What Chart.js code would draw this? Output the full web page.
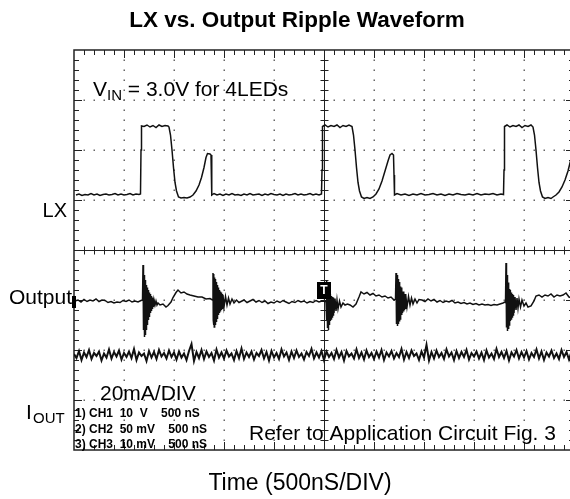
<!DOCTYPE html>
<html>
<head>
<meta charset="utf-8">
<script src="https://cdn.jsdelivr.net/npm/chart.js@4"></script>
<style>
  html, body { margin: 0; padding: 0; background: #fff; overflow: hidden; }
  #wrap { width: 570px; height: 499px; overflow: hidden; }
</style>
</head>
<body>
<div id="wrap"><canvas id="scope" width="580" height="499"></canvas></div>
<script>
// --- data: time in divisions (0..10), level in divisions (0..8 from bottom) ---
const chartTitle = 'LX vs. Output Ripple Waveform';
const xAxisTitle = 'Time (500nS/DIV)';
const channelInfo = ['1) CH1  10  V    500 nS', '2) CH2  50 mV    500 nS', '3) CH3  10 mV    500 nS'];

// CH1 - LX switching node
const lxTrace = [
  [0.04,5.1],[0.1,5.12],[0.16,5.09],[0.22,5.11],[0.28,5.1],[0.34,5.13],[0.4,5.1],[0.46,5.12],[0.52,5.09],[0.58,5.11],
  [0.64,5.12],[0.7,5.1],[0.76,5.11],[0.82,5.13],[0.88,5.1],[0.94,5.12],[1.0,5.1],[1.06,5.11],[1.12,5.13],[1.18,5.1],
  [1.24,5.12],[1.3,5.11],[1.33,5.12],
  [1.34,6.0],[1.35,6.48],[1.4,6.47],[1.46,6.5],[1.52,6.46],[1.58,6.49],[1.64,6.45],[1.7,6.5],[1.76,6.47],[1.82,6.49],[1.88,6.48],[1.9,6.46],
  [1.93,6.3],[1.96,6.0],[1.99,5.65],[2.02,5.35],[2.05,5.18],[2.09,5.06],[2.14,5.04],[2.2,5.05],[2.26,5.04],[2.32,5.06],
  [2.38,5.1],[2.44,5.18],[2.5,5.3],[2.55,5.45],[2.6,5.65],[2.64,5.85],[2.67,5.93],[2.72,5.92],[2.74,5.9],[2.75,5.5],[2.76,5.1],
  [2.8,5.13],[2.86,5.1],[2.92,5.12],[2.98,5.09],[3.04,5.12],[3.1,5.1],[3.16,5.13],[3.22,5.1],[3.28,5.11],[3.34,5.09],
  [3.4,5.12],[3.46,5.1],[3.52,5.13],[3.58,5.1],[3.64,5.11],[3.7,5.12],[3.76,5.09],[3.82,5.12],[3.88,5.1],[3.94,5.13],
  [4.0,5.11],[4.06,5.1],[4.12,5.12],[4.18,5.09],[4.24,5.12],[4.3,5.1],[4.36,5.11],[4.42,5.13],[4.48,5.1],[4.54,5.12],
  [4.6,5.1],[4.66,5.11],[4.72,5.13],[4.78,5.1],[4.84,5.12],[4.9,5.1],[4.95,5.12],
  [4.96,5.6],[4.97,6.47],[5.02,6.5],[5.08,6.46],[5.14,6.49],[5.2,6.47],[5.26,6.5],[5.32,6.45],[5.38,6.49],[5.44,6.47],[5.5,6.5],[5.56,6.47],
  [5.59,6.3],[5.62,6.0],[5.65,5.65],[5.68,5.35],[5.71,5.18],[5.75,5.06],[5.8,5.03],[5.86,5.05],[5.92,5.03],[5.98,5.06],
  [6.04,5.12],[6.1,5.22],[6.16,5.38],[6.22,5.58],[6.28,5.78],[6.32,5.9],[6.36,5.93],[6.39,5.9],[6.4,5.5],[6.41,5.1],
  [6.46,5.13],[6.54,5.1],[6.62,5.12],[6.7,5.09],[6.78,5.12],[6.86,5.1],[6.94,5.13],[7.02,5.1],[7.1,5.11],[7.18,5.13],
  [7.26,5.1],[7.34,5.12],[7.42,5.09],[7.5,5.12],[7.58,5.1],[7.66,5.13],[7.74,5.11],[7.82,5.1],[7.9,5.12],[7.98,5.1],
  [8.06,5.13],[8.14,5.1],[8.22,5.12],[8.3,5.11],[8.38,5.13],[8.46,5.1],[8.54,5.12],[8.59,5.11],
  [8.6,5.6],[8.61,6.47],[8.66,6.5],[8.72,6.46],[8.78,6.49],[8.84,6.47],[8.9,6.5],[8.96,6.45],[9.02,6.49],[9.08,6.47],[9.14,6.5],[9.18,6.46],
  [9.21,6.3],[9.24,6.0],[9.27,5.65],[9.3,5.35],[9.33,5.18],[9.37,5.06],[9.42,5.03],[9.48,5.05],[9.54,5.03],[9.58,5.06],
  [9.64,5.1],[9.7,5.16],[9.76,5.26],[9.82,5.4],[9.88,5.58],[9.93,5.78],[9.97,5.88],[10,5.92]
];

// CH2 - output ripple
const outTrace = [
  [0.02,2.98],[0.08,3.0],[0.14,2.96],[0.2,3.01],[0.26,2.97],[0.32,3.0],[0.38,2.98],[0.44,3.02],[0.5,2.97],[0.56,3.0],
  [0.62,2.99],[0.68,2.95],[0.74,2.97],[0.8,2.94],[0.86,2.96],[0.92,2.95],[0.98,2.99],[1.04,2.97],[1.1,3.0],[1.16,2.96],
  [1.22,2.98],[1.28,2.96],[1.34,2.99],
  [1.37,3.0],[1.38,3.7],[1.385,2.6],[1.39,3.6],[1.395,2.4],[1.40,3.5],[1.405,2.3],[1.41,3.45],[1.415,2.26],[1.42,3.4],
  [1.425,2.3],[1.43,3.35],[1.435,2.35],[1.44,3.3],[1.445,2.4],[1.45,3.28],[1.455,2.45],[1.46,3.25],[1.465,2.5],[1.47,3.22],
  [1.475,2.55],[1.48,3.2],[1.485,2.6],[1.49,3.17],[1.495,2.63],[1.50,3.15],[1.505,2.66],[1.51,3.13],[1.515,2.7],[1.52,3.12],
  [1.53,2.74],[1.54,3.08],[1.55,2.78],[1.56,3.05],[1.57,2.82],[1.58,3.03],[1.59,2.86],[1.60,3.0],[1.62,2.9],[1.64,2.98],
  [1.66,2.9],[1.68,2.94],
  [1.72,2.9],[1.78,2.92],[1.84,2.86],[1.88,2.89],[1.94,2.96],[1.98,3.05],[2.04,3.15],[2.08,3.2],[2.14,3.14],[2.2,3.16],
  [2.26,3.12],[2.32,3.1],[2.4,3.08],[2.48,3.06],[2.56,3.06],[2.64,3.02],[2.72,3.03],[2.77,3.0],
  [2.78,3.54],[2.785,2.6],[2.79,3.52],[2.795,2.5],[2.80,3.5],[2.805,2.46],[2.81,3.45],[2.815,2.48],[2.82,3.42],[2.825,2.5],
  [2.83,3.38],[2.835,2.54],[2.84,3.36],[2.845,2.56],[2.85,3.33],[2.855,2.6],[2.86,3.3],[2.865,2.62],[2.87,3.27],[2.875,2.66],
  [2.88,3.25],[2.89,2.7],[2.90,3.2],[2.91,2.74],[2.92,3.17],[2.93,2.77],[2.94,3.15],[2.95,2.8],[2.96,3.12],[2.97,2.82],
  [2.98,3.1],[3.0,2.86],[3.03,3.07],[3.06,2.9],[3.09,3.04],[3.12,2.92],[3.16,3.02],[3.2,2.94],[3.25,3.0],[3.3,2.95],
  [3.34,2.97],[3.4,3.0],[3.46,2.95],[3.52,2.98],[3.58,3.01],[3.64,2.96],[3.7,2.99],[3.76,2.95],[3.82,2.98],[3.88,2.93],
  [3.94,2.96],[4.0,2.94],[4.06,2.98],[4.12,2.95],[4.18,2.99],[4.24,2.96],[4.3,2.93],[4.36,2.97],[4.42,2.95],[4.48,2.99],
  [4.54,2.96],[4.6,2.98],[4.66,2.94],[4.72,2.97],[4.78,2.95],[4.84,2.99],[4.9,2.96],[4.96,2.98],[5.02,2.97],
  [5.04,2.98],[5.05,3.4],[5.055,2.6],[5.06,3.35],[5.065,2.5],[5.07,3.3],[5.075,2.44],[5.08,3.25],[5.085,2.4],[5.09,3.2],
  [5.095,2.45],[5.10,3.18],[5.105,2.5],[5.11,3.15],[5.115,2.55],[5.12,3.12],[5.125,2.58],[5.13,3.1],[5.14,2.62],[5.15,3.08],
  [5.16,2.66],[5.17,3.06],[5.18,2.7],[5.19,3.05],[5.2,2.74],[5.22,3.03],[5.24,2.78],[5.26,3.0],[5.28,2.82],[5.31,2.98],
  [5.34,2.86],[5.38,2.94],[5.42,2.9],[5.47,2.92],
  [5.52,2.9],[5.58,2.86],[5.64,2.92],[5.7,3.06],[5.74,3.16],[5.8,3.12],[5.86,3.15],[5.92,3.1],[5.98,3.13],[6.04,3.08],
  [6.1,3.1],[6.16,3.06],[6.22,3.08],[6.28,3.04],[6.34,3.06],[6.4,3.0],[6.43,3.02],
  [6.44,3.54],[6.445,2.6],[6.45,3.52],[6.455,2.52],[6.46,3.5],[6.465,2.48],[6.47,3.45],[6.475,2.5],[6.48,3.42],[6.485,2.52],
  [6.49,3.38],[6.495,2.55],[6.50,3.36],[6.505,2.57],[6.51,3.33],[6.515,2.6],[6.52,3.3],[6.525,2.62],[6.53,3.27],[6.535,2.66],
  [6.54,3.25],[6.55,2.7],[6.56,3.2],[6.57,2.74],[6.58,3.17],[6.59,2.77],[6.6,3.15],[6.61,2.8],[6.62,3.12],[6.63,2.82],
  [6.64,3.1],[6.66,2.86],[6.69,3.07],[6.72,2.9],[6.75,3.04],[6.78,2.92],[6.82,3.02],[6.86,2.94],[6.9,3.01],
  [6.96,3.0],[7.02,2.97],[7.08,3.02],[7.14,2.98],[7.2,3.01],[7.26,2.96],[7.32,2.99],[7.38,2.95],[7.44,2.98],[7.5,2.96],
  [7.56,2.99],[7.62,2.94],[7.68,2.96],[7.74,2.93],[7.8,2.95],[7.86,2.92],[7.92,2.94],[7.98,2.91],[8.04,2.93],[8.1,2.9],
  [8.16,2.92],[8.22,2.9],[8.28,2.91],[8.34,2.89],[8.4,2.91],[8.46,2.9],[8.52,2.92],[8.58,2.94],[8.62,2.96],
  [8.63,2.95],[8.64,3.74],[8.645,2.6],[8.65,3.6],[8.655,2.45],[8.66,3.5],[8.665,2.4],[8.67,3.42],[8.675,2.38],[8.68,3.35],
  [8.685,2.42],[8.69,3.3],[8.695,2.46],[8.70,3.25],[8.705,2.5],[8.71,3.22],[8.715,2.54],[8.72,3.2],[8.725,2.58],[8.73,3.17],
  [8.74,2.62],[8.75,3.15],[8.76,2.66],[8.77,3.12],[8.78,2.7],[8.79,3.1],[8.8,2.74],[8.82,3.06],[8.84,2.8],[8.86,3.04],
  [8.88,2.84],[8.9,3.02],[8.93,2.86],[8.96,3.0],[9.0,2.88],[9.04,2.94],[9.08,2.86],[9.14,2.88],[9.2,2.98],[9.24,3.08],
  [9.3,3.1],[9.36,3.06],[9.42,3.1],[9.48,3.08],[9.54,3.12],[9.6,3.06],[9.66,3.1],[9.72,3.08],[9.78,3.1],[9.84,3.14],
  [9.9,3.06],[9.96,3.04],[10,3.05]
];

// CH3 - LED current, sampled every 0.05 div
const ioutStep = 0.05;
const ioutValues = [
  1.92,1.84,1.98,1.80,1.95,1.86,2.00,1.82,1.94,1.88,1.97,1.79,1.93,1.85,2.01,1.83,1.96,1.87,1.99,1.81,
  1.94,1.86,1.97,1.84,2.02,1.80,1.95,1.88,1.93,1.78,1.98,1.85,1.96,1.82,2.00,1.87,1.94,1.83,1.99,1.86,
  1.95,1.81,1.97,1.85,1.93,1.80,1.98,2.12,1.78,1.96,1.84,2.00,1.82,1.97,1.86,1.94,1.79,2.01,1.85,1.95,
  1.83,1.99,1.87,1.93,1.80,1.98,1.84,2.03,1.82,1.95,1.86,1.97,1.81,1.94,1.88,2.00,1.83,1.96,1.79,1.98,
  1.85,1.94,1.82,2.01,1.87,1.95,1.80,1.97,1.84,1.99,1.86,1.93,1.81,1.96,1.88,2.02,1.83,1.95,1.85,1.98,
  1.80,1.97,1.86,1.94,1.82,2.00,1.85,1.96,1.79,1.98,1.87,1.93,1.83,2.01,1.84,1.95,1.81,1.99,1.86,1.94,
  1.82,1.97,1.85,2.00,1.80,1.95,1.87,1.98,1.83,1.94,1.86,2.02,1.81,1.96,1.84,1.99,1.88,1.93,1.80,1.97,
  1.85,2.10,1.79,1.96,1.83,1.99,1.86,1.94,1.82,2.01,1.87,1.95,1.80,1.98,1.84,1.96,1.86,2.00,1.81,1.94,
  1.87,1.97,1.83,1.95,1.80,1.99,1.85,1.93,1.82,2.02,1.86,1.96,1.84,1.98,1.79,1.95,1.87,2.00,1.83,1.96,
  1.85,1.98,1.81,1.94,1.86,2.01,1.83,1.97,1.80,1.95,1.87,1.99,1.84,1.93,1.82,2.00,1.86,1.96,1.81,1.97
];

const triggerLevel = 3.2;   // trigger marker level (div)
const ch2Ground = 3.0;      // CH2 reference marker (div)

const FONT = '"Liberation Sans", Arial, sans-serif';

// --- graticule: dotted grid, centre crosshair, bordered frame with ticks ---
const graticule = {
  id: 'graticule',
  beforeDatasetsDraw(chart) {
    const { ctx, chartArea: a, scales: { x, y } } = chart;
    ctx.save();
    // dotted major lines
    ctx.fillStyle = '#666';
    for (let i = 1; i < 10; i++) {
      if (i === 5) continue;
      const px = Math.round(x.getPixelForValue(i));
      for (let k = 1; k < 40; k++) {
        ctx.fillRect(px - 0.5, Math.round(y.getPixelForValue(k * 0.2)) - 0.5, 1.5, 1.5);
      }
    }
    for (let j = 1; j < 8; j++) {
      if (j === 4) continue;
      const py = Math.round(y.getPixelForValue(j));
      for (let k = 1; k < 50; k++) {
        ctx.fillRect(Math.round(x.getPixelForValue(k * 0.2)) - 0.5, py - 0.5, 1.5, 1.5);
      }
    }
    // centre lines with tick marks
    ctx.strokeStyle = '#222';
    ctx.lineWidth = 1;
    const cx = Math.round(x.getPixelForValue(5)) + 0.5;
    const cy = Math.round(y.getPixelForValue(4)) + 0.5;
    ctx.beginPath();
    ctx.moveTo(cx, a.top); ctx.lineTo(cx, a.bottom);
    ctx.moveTo(a.left, cy); ctx.lineTo(a.right, cy);
    for (let k = 1; k < 40; k++) {
      const py = Math.round(y.getPixelForValue(k * 0.2)) + 0.5;
      ctx.moveTo(cx - 4, py); ctx.lineTo(cx + 4, py);
    }
    for (let k = 1; k < 50; k++) {
      const px = Math.round(x.getPixelForValue(k * 0.2)) + 0.5;
      ctx.moveTo(px, cy - 4); ctx.lineTo(px, cy + 4);
    }
    // border ticks pointing inwards
    for (let k = 1; k < 50; k++) {
      const px = Math.round(x.getPixelForValue(k * 0.2)) + 0.5;
      const len = k % 5 === 0 ? 8 : 5;
      ctx.moveTo(px, a.top); ctx.lineTo(px, a.top + len);
      ctx.moveTo(px, a.bottom); ctx.lineTo(px, a.bottom - len);
    }
    for (let k = 1; k < 40; k++) {
      const py = Math.round(y.getPixelForValue(k * 0.2)) + 0.5;
      const len = k % 5 === 0 ? 8 : 5;
      ctx.moveTo(a.left, py); ctx.lineTo(a.left + len, py);
      ctx.moveTo(a.right, py); ctx.lineTo(a.right - len, py);
    }
    ctx.stroke();
    ctx.lineWidth = 1.5;
    ctx.strokeRect(a.left, a.top, a.right - a.left, a.bottom - a.top);
    ctx.restore();
  },
  afterDraw(chart) {
    const { ctx, scales: { x, y }, chartArea: a } = chart;
    ctx.save();
    ctx.fillStyle = '#000';
    ctx.textBaseline = 'middle';

    // title
    ctx.font = 'bold 22.5px ' + FONT;
    ctx.textAlign = 'center';
    ctx.fillText(chartTitle, 297, 21);

    // x axis label
    ctx.font = '23px ' + FONT;
    ctx.fillText(xAxisTitle, 300, 484);

    // channel labels on the left
    ctx.textAlign = 'right';
    ctx.font = '20px ' + FONT;
    ctx.fillText('LX', 67, 211);
    ctx.font = '21px ' + FONT;
    ctx.fillText('Output', 72, 298);

    ctx.textAlign = 'left';
    // I_OUT
    ctx.font = '21px ' + FONT;
    ctx.fillText('I', 26, 413);
    ctx.font = '15px ' + FONT;
    ctx.fillText('OUT', 33, 419);

    // V_IN annotation
    ctx.font = '21px ' + FONT;
    let px = 93;
    ctx.fillText('V', px, 90);
    px += ctx.measureText('V').width;
    ctx.font = '15px ' + FONT;
    ctx.fillText('IN', px, 96);
    px += ctx.measureText('IN').width;
    ctx.font = '21px ' + FONT;
    ctx.fillText(' = 3.0V for 4LEDs', px, 90);

    ctx.fillText('20mA/DIV', 100, 394);
    ctx.fillText('Refer to Application Circuit Fig. 3', 249, 434);

    // scope channel settings
    ctx.font = 'bold 12px ' + FONT;
    channelInfo.forEach((t, i) => ctx.fillText(t, 75, 414 + i * 15.5));

    // CH2 reference marker on left edge
    const gy = y.getPixelForValue(ch2Ground);
    ctx.fillRect(a.left - 2, gy - 4, 4, 12);

    // trigger marker
    const tx = x.getPixelForValue(5), ty = y.getPixelForValue(triggerLevel);
    ctx.fillRect(tx - 7, ty - 8, 14, 17);
    ctx.fillStyle = '#fff';
    ctx.font = 'bold 12px ' + FONT;
    ctx.textAlign = 'center';
    ctx.fillText('T', tx, ty + 1);
    ctx.restore();
  }
};

const toPoints = arr => arr.map(p => ({ x: p[0], y: p[1] }));
const ioutPoints = ioutValues.map((v, i) => ({ x: i * ioutStep, y: v }));

const traceStyle = { showLine: true, pointRadius: 0, borderColor: '#111', borderWidth: 1.5, tension: 0, fill: false };

new Chart(document.getElementById('scope'), {
  type: 'scatter',
  data: {
    datasets: [
      Object.assign({ label: 'LX', data: toPoints(lxTrace) }, traceStyle),
      Object.assign({ label: 'Output', data: toPoints(outTrace) }, traceStyle),
      Object.assign({ label: 'IOUT', data: ioutPoints }, traceStyle, { borderWidth: 2 })
    ]
  },
  options: {
    responsive: false,
    animation: false,
    layout: { padding: { left: 74, top: 50, right: 6, bottom: 49 } },
    plugins: { legend: { display: false }, tooltip: { enabled: false }, title: { display: false } },
    scales: {
      x: { type: 'linear', min: 0, max: 10, display: false },
      y: { type: 'linear', min: 0, max: 8, display: false }
    }
  },
  plugins: [graticule]
});
</script>
</body>
</html>
